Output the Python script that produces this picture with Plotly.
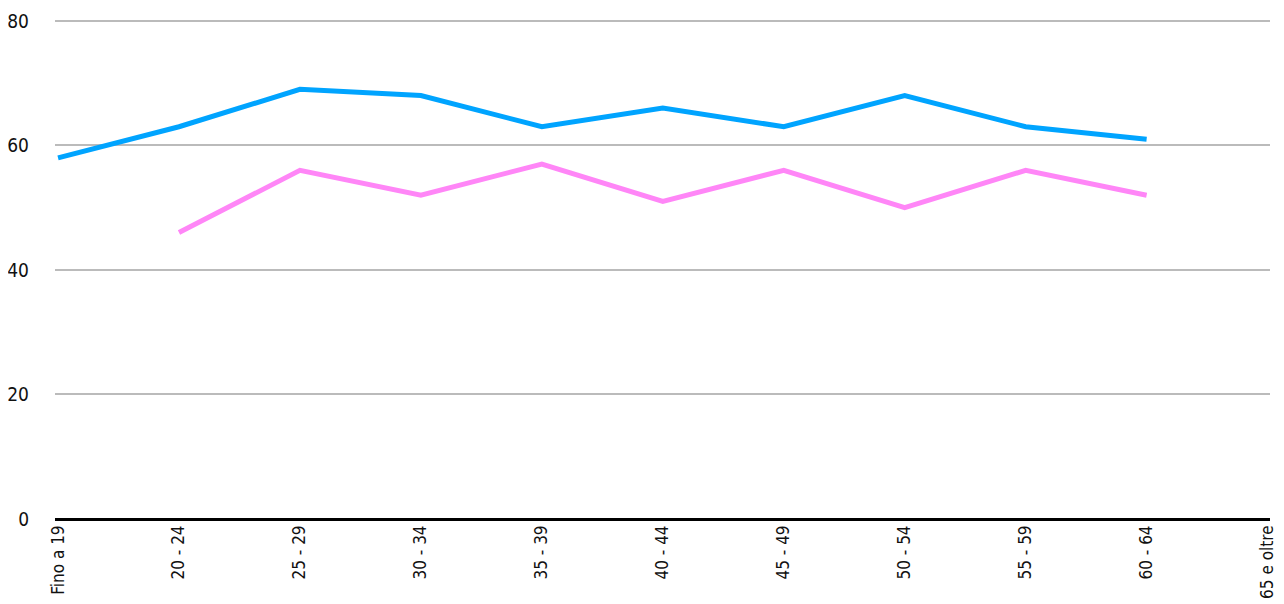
import plotly.graph_objects as go

categories = ["Fino a 19", "20 - 24", "25 - 29", "30 - 34", "35 - 39", "40 - 44",
              "45 - 49", "50 - 54", "55 - 59", "60 - 64", "65 e oltre"]
series_blue = [58, 63, 69, 68, 63, 66, 63, 68, 63, 61, None]
series_pink = [None, 46, 56, 52, 57, 51, 56, 50, 56, 52, None]
y_ticks = [0, 20, 40, 60, 80]

FONT = "Liberation Sans Narrow, DejaVu Sans Condensed, Arial Narrow, sans-serif"

fig = go.Figure()
fig.add_trace(go.Scatter(x=categories, y=series_blue, mode="lines",
                         line=dict(color="#00A4FF", width=5), connectgaps=False,
                         hoverinfo="skip", showlegend=False))
fig.add_trace(go.Scatter(x=categories, y=series_pink, mode="lines",
                         line=dict(color="#FF86F7", width=5), connectgaps=False,
                         hoverinfo="skip", showlegend=False))

fig.update_layout(
    width=1284, height=604,
    margin=dict(l=47, r=22, t=11, b=93),
    plot_bgcolor="white", paper_bgcolor="white",
    font=dict(family=FONT, size=17, color="#111"),
    xaxis=dict(type="category", range=[-0.025, 10.02], showgrid=False,
               tickangle=-90, ticks="", ticklabelstandoff=2, automargin=False,
               showline=False, zeroline=False, fixedrange=True),
    yaxis=dict(range=[0, 80.3], tickvals=y_ticks, showgrid=True, gridcolor="#BBBBBB",
               gridwidth=2, zeroline=True, zerolinecolor="#000", zerolinewidth=2.5,
               showline=False, ticks="", ticklabelstandoff=25, automargin=False,
               tickfont=dict(size=19), fixedrange=True),
)

fig.write_html("out.html")
